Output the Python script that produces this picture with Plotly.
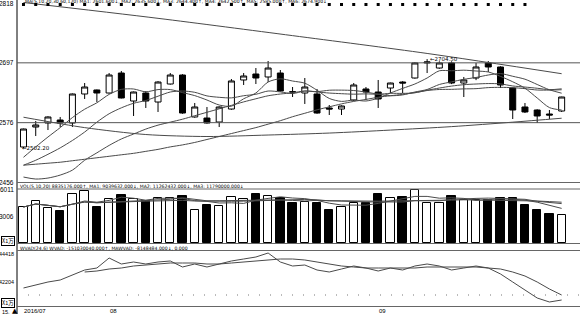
import plotly.graph_objects as go
import pandas as pd

# ---------------- data ----------------
days = list(range(45))
opens = [2526.8, 2567.2, 2575.3, 2581.4, 2575.3, 2634.0, 2642.1, 2636.0, 2676.4, 2619.8,
         2636.0, 2617.8, 2654.2, 2672.4, 2587.5, 2585.4, 2577.3, 2603.6, 2662.3, 2674.4,
         2668.4, 2676.4, 2638.5, 2636.0, 2634.0, 2605.7, 2603.6, 2621.8, 2644.1, 2638.0,
         2646.1, 2658.2, 2666.3, 2696.7, 2686.5, 2696.7, 2656.2, 2666.3, 2696.7, 2688.6,
         2646.1, 2607.7, 2601.6, 2593.5, 2599.6]
highs = [2564.0, 2579.4, 2589.0, 2587.5, 2635.0, 2656.2, 2643.0, 2676.4, 2680.5, 2639.0,
         2640.0, 2660.0, 2676.4, 2674.0, 2615.8, 2607.7, 2609.0, 2664.3, 2676.4, 2686.5,
         2700.7, 2682.5, 2648.1, 2666.3, 2644.1, 2611.7, 2611.0, 2656.2, 2648.1, 2662.3,
         2657.0, 2660.0, 2698.0, 2704.5, 2700.0, 2700.0, 2668.4, 2696.7, 2700.7, 2690.0,
         2647.0, 2615.8, 2603.0, 2601.6, 2628.5]
lows = [2524.8, 2549.0, 2561.1, 2567.2, 2567.2, 2623.9, 2617.8, 2635.0, 2625.0, 2589.5,
        2605.7, 2597.6, 2653.0, 2594.0, 2586.0, 2574.0, 2567.2, 2602.0, 2652.2, 2654.2,
        2658.2, 2639.0, 2627.9, 2613.8, 2594.0, 2591.5, 2591.5, 2620.0, 2621.8, 2605.7,
        2636.0, 2636.0, 2665.0, 2676.4, 2685.0, 2654.0, 2627.9, 2662.0, 2678.5, 2646.1,
        2583.4, 2595.5, 2575.3, 2583.4, 2597.6]
closes = [2563.2, 2571.3, 2587.5, 2575.3, 2634.0, 2648.1, 2636.0, 2672.4, 2625.9, 2638.0,
          2619.8, 2658.2, 2672.4, 2595.5, 2607.7, 2575.3, 2607.7, 2660.3, 2670.4, 2666.3,
          2686.5, 2640.0, 2638.0, 2648.1, 2595.5, 2603.6, 2609.7, 2652.2, 2638.0, 2623.9,
          2656.2, 2656.2, 2696.7, 2698.7, 2696.7, 2656.2, 2662.3, 2688.6, 2688.6, 2652.2,
          2601.6, 2597.6, 2589.5, 2591.5, 2627.9]

ma5 = [2506, 2527, 2547, 2566, 2586.3, 2603.2, 2616.2, 2633.2, 2643.3, 2644.1, 2638.4, 2642.9,
       2642.9, 2636.8, 2630.7, 2621.8, 2611.7, 2609.3, 2624.3, 2636.0, 2658.2, 2664.7, 2660.2,
       2655.8, 2641.6, 2625.0, 2619.0, 2621.8, 2619.8, 2625.5, 2636.0, 2645.3, 2654.2, 2666.3,
       2680.9, 2680.9, 2682.1, 2680.5, 2678.5, 2669.6, 2658.7, 2645.7, 2625.9, 2606.5, 2601.6]
ma10 = [2490, 2500, 2512, 2525, 2540, 2557, 2577, 2594, 2606, 2615.2, 2620.8, 2629.5, 2638.0,
        2640.0, 2637.4, 2630.1, 2627.3, 2626.1, 2630.5, 2633.4, 2640.0, 2638.2, 2634.8, 2640.0,
        2638.8, 2641.6, 2641.8, 2641.0, 2637.8, 2633.6, 2630.5, 2632.1, 2638.0, 2643.1, 2653.2,
        2658.5, 2663.7, 2667.4, 2672.4, 2675.2, 2669.8, 2663.9, 2653.2, 2642.5, 2635.6]
ma20 = [2466, 2462, 2464, 2470, 2480, 2500, 2515, 2530, 2543, 2553, 2563, 2571, 2577, 2583,
        2590, 2597, 2604, 2611, 2618, 2624.3, 2630.4, 2633.9, 2636.4, 2640.0, 2638.1, 2635.9,
        2634.6, 2633.6, 2634.2, 2633.5, 2635.3, 2635.2, 2636.4, 2641.6, 2646.0, 2650.0, 2652.8,
        2654.2, 2655.1, 2654.4, 2650.2, 2648.0, 2645.6, 2642.8, 2644.4]
ma30 = [2490, 2492, 2494, 2496, 2499, 2502, 2505, 2508, 2511, 2514, 2518, 2522, 2527, 2531,
        2536, 2542, 2548, 2554, 2560, 2566, 2573, 2580, 2588, 2595, 2602, 2608, 2614, 2619,
        2623, 2627.4, 2630.5, 2633.3, 2636.9, 2641.0, 2643.1, 2643.4, 2644.3, 2644.8, 2646.9,
        2647.4, 2646.8, 2644.8, 2642.0, 2641.9, 2642.5]
ma60_days = [0, 5, 10, 15, 20, 25, 30, 35, 40, 44]
ma60 = [2587, 2566, 2552, 2548, 2551, 2555, 2561, 2568, 2577, 2585]
ma120_days = [0, 11, 22, 33, 44]
ma120 = [2819, 2787, 2752, 2716, 2675]

flag_days = list(range(42))
flag_level = 2815

volume = [4007, 4675, 3896, 3562, 5454, 5788, 4007, 4897, 5342, 4897, 4675, 5009, 5009, 5231,
          3673, 4229, 4118, 5120, 4897, 5454, 5231, 5009, 4452, 4563, 4452, 3673, 4007, 4452,
          4452, 5454, 5009, 5120, 5899, 4452, 4452, 5231, 4786, 4786, 4786, 5009, 5009, 4229,
          3673, 3228, 3116]

wvad = [41730, 41967, 42204, 42362, 42758, 43153, 43311, 44102, 43627, 43785, 43627, 43785,
        43865, 43390, 43627, 43390, 43627, 43865, 44023, 44181, 44497, 43785, 43469, 43548,
        43153, 42995, 43232, 43469, 43311, 43074, 43311, 43153, 43469, 43627, 43469, 43153,
        43311, 43469, 43311, 42837, 42204, 41572, 40939, 40623, 40781]
mawvad_days = list(range(5, 45))
mawvad = [42995, 43074, 43232, 43311, 43469, 43548, 43627, 43706, 43706, 43706, 43627, 43627,
          43706, 43785, 43865, 43944, 44023, 44023, 43944, 43785, 43627, 43469, 43390, 43311,
          43311, 43311, 43311, 43311, 43390, 43390, 43390, 43390, 43390, 43311, 43232, 42995,
          42678, 42204, 41651, 41176]
wvad_ref = 41176

price_ticks = [2818, 2697, 2576, 2456]
vol_ticks = [6011, 3006]
vol_tick_text = ["6011", "3006"]
wvad_ticks = [44418, 42204]
date_days = [0, 7, 29]
date_text = ["2016/07", "08", "09"]
low_mark_text = "←2502.20"
high_mark_text = "←2704.50"

price_title = ("MA(5,10,20,30,60,120) MA1: 2601.600↓, MA2: 2635.600↓, MA3: 2644.400↑, "
               "MA4: 2642.500↑, MA5: 2585.000↑, MA6: 2674.900↓")
vol_title = ("VOL(5,10,20) 8835176.000↑, MA1: 9039632.000↓, MA2: 11262432.000↓, "
             "MA3: 11790000.000↓")
wvad_title = "WVAD(24,6) WVAD: -151030040.000↑, MAWVAD: -8148484.000↓, 0.000"

# ---------------- layout helpers ----------------
W, H = 580, 314
def py(px):
    return 1 - px / H

LINE = "#4a4a4a"
FONT = "DejaVu Sans"

fig = go.Figure()

# price pane
fig.add_trace(go.Candlestick(
    x=days, open=opens, high=highs, low=lows, close=closes,
    increasing=dict(line=dict(color="black", width=1), fillcolor="white"),
    decreasing=dict(line=dict(color="black", width=1), fillcolor="black"),
    whiskerwidth=0, showlegend=False, hoverinfo="skip", yaxis="y"))

for xs, ys in [(days, ma5), (days, ma10), (days, ma20), (days, ma30),
               (ma60_days, ma60), (ma120_days, ma120)]:
    fig.add_trace(go.Scatter(x=xs, y=ys, mode="lines", yaxis="y",
                             line=dict(color=LINE, width=1, shape="spline", smoothing=0.8),
                             showlegend=False, hoverinfo="skip"))

fig.add_trace(go.Scatter(x=flag_days, y=[flag_level] * len(flag_days), mode="markers",
                         marker=dict(symbol="square", size=3, color="black"),
                         yaxis="y", showlegend=False, hoverinfo="skip"))

# volume pane
up = [c >= o for o, c in zip(opens, closes)]
fig.add_trace(go.Bar(x=days, y=volume, yaxis="y2", width=0.68,
                     marker=dict(color=["white" if u else "black" for u in up],
                                 line=dict(color="black", width=1)),
                     showlegend=False, hoverinfo="skip"))
vs = pd.Series(volume, dtype=float)
for n in (5, 10, 20):
    fig.add_trace(go.Scatter(x=days, y=vs.rolling(n, min_periods=1).mean(), mode="lines",
                             yaxis="y2", line=dict(color=LINE, width=1),
                             showlegend=False, hoverinfo="skip"))

# wvad pane
fig.add_trace(go.Scatter(x=days, y=wvad, mode="lines", yaxis="y3",
                         line=dict(color=LINE, width=1), showlegend=False, hoverinfo="skip"))
fig.add_trace(go.Scatter(x=mawvad_days, y=mawvad, mode="lines", yaxis="y3",
                         line=dict(color=LINE, width=1), showlegend=False, hoverinfo="skip"))

p_top = 2818 + 3 * 2.0223
p_bot = p_top - 182.5 * 2.0223
v_per_px = 6011 / 54.0
w_per_px = (44418 - 42204) / 28.0

fig.update_layout(
    width=W, height=H, margin=dict(l=17, r=0, t=0, b=0),
    paper_bgcolor="white", plot_bgcolor="white",
    xaxis=dict(range=[-0.531, 45.5], domain=[0, 1], anchor="y3", showgrid=False,
               zeroline=False, showticklabels=False, ticks="", rangeslider=dict(visible=False)),
    yaxis=dict(domain=[py(182.5), 1], range=[p_bot, p_top], showgrid=False, zeroline=False,
               showticklabels=False, anchor="x"),
    yaxis2=dict(domain=[py(243.5), py(189)], range=[-0.5 * v_per_px, 6011], showgrid=False,
                zeroline=False, showticklabels=False, anchor="x"),
    yaxis3=dict(domain=[py(306), py(251)], range=[44418 - 52 * w_per_px, 44418 + 3 * w_per_px],
                showgrid=False, zeroline=False, showticklabels=False, anchor="x"),
    bargap=0, showlegend=False,
)

shapes = []
# left axis line
shapes.append(dict(type="line", xref="paper", yref="paper", x0=0, x1=0, y0=0, y1=1,
                   line=dict(color="black", width=1)))
# price gridlines
for v in (2697, 2576):
    shapes.append(dict(type="line", xref="paper", yref="y", x0=0, x1=1, y0=v, y1=v,
                       line=dict(color="#555", width=1)))
# separators
for px in (182.5, 189, 243.5, 250.5, 306.5):
    shapes.append(dict(type="line", xref="paper", yref="paper", x0=0, x1=1, y0=py(px),
                       y1=py(px), line=dict(color="#666", width=1)))
# wvad dotted reference
shapes.append(dict(type="line", xref="paper", yref="y3", x0=0, x1=1, y0=wvad_ref, y1=wvad_ref,
                   line=dict(color="#777", width=1, dash="1px,10px")))
fig.update_layout(shapes=shapes)

ann = []
def ylab(text, y, yref, size=6.5):
    ann.append(dict(text=text, x=0, xref="paper", y=y, yref=yref, xanchor="right",
                    yanchor="middle", xshift=-1, showarrow=False,
                    font=dict(family="Liberation Sans", size=size, color="black")))
for v in price_ticks:
    ylab(str(v), v, "y")
for v, t in zip(vol_ticks, vol_tick_text):
    ylab(t, v, "y2")
for v in wvad_ticks:
    ylab(str(v), v, "y3", size=5.4)

for px in (241, 302.5):
    ann.append(dict(text="X1万", x=-0.029, xref="paper", y=py(px), yref="paper",
                    xanchor="left", yanchor="middle", showarrow=False,
                    bordercolor="black", borderwidth=1, borderpad=0, bgcolor="white",
                    font=dict(family="Noto Sans CJK SC", size=5.5, color="black")))

small = dict(family=FONT, size=4.6, color="black")
ann.append(dict(text=price_title, x=0.01, xref="paper", y=py(1), yref="paper",
                xanchor="left", yanchor="middle", showarrow=False, font=small))
ann.append(dict(text=vol_title, x=0.002, xref="paper", y=py(186), yref="paper",
                xanchor="left", yanchor="middle", showarrow=False, font=small))
ann.append(dict(text=wvad_title, x=0.002, xref="paper", y=py(248), yref="paper",
                xanchor="left", yanchor="middle", showarrow=False, font=small))

ann.append(dict(text=low_mark_text, x=days[0], xref="x", y=lows[0], yref="y",
                xanchor="left", yanchor="middle", xshift=-3, showarrow=False,
                font=dict(family=FONT, size=5.5, color="black")))
ann.append(dict(text=high_mark_text, x=days[33], xref="x", y=highs[33], yref="y",
                xanchor="left", yanchor="middle", xshift=1, showarrow=False,
                font=dict(family=FONT, size=5.5, color="black")))

for d, t in zip(date_days, date_text):
    ann.append(dict(text=t, x=d, xref="x", y=py(311), yref="paper", xanchor="left",
                    yanchor="middle", xshift=-1, showarrow=False,
                    font=dict(family="Liberation Sans", size=6, color="black")))
ann.append(dict(text="15.", x=-0.03, xref="paper", y=py(311.5), yref="paper", xanchor="left",
                yanchor="middle", showarrow=False,
                font=dict(family="Liberation Sans", size=5.5, color="black")))
ann.append(dict(text="▲", x=-0.012, xref="paper", y=py(311), yref="paper", xanchor="left",
                yanchor="middle", showarrow=False,
                font=dict(family="DejaVu Sans", size=7, color="black")))
fig.update_layout(annotations=ann)

fig.write_html("out.html")
